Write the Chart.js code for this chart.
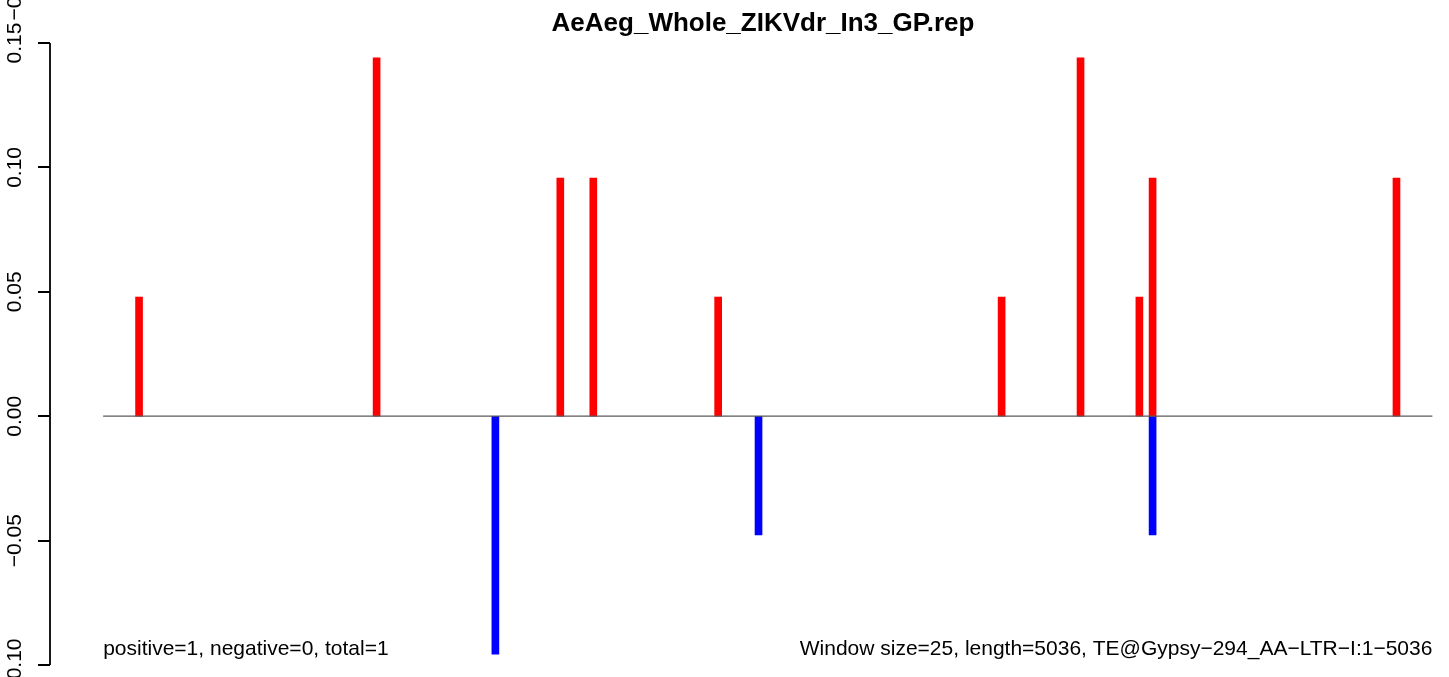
<!DOCTYPE html>
<html>
<head>
<meta charset="utf-8">
<script src="https://cdn.jsdelivr.net/npm/chart.js@4"></script>
<style>
  body { margin: 0; background: #fff; }
  canvas { display: block; }
</style>
</head>
<body>
<canvas id="myChart" width="1449" height="677"></canvas>
<script>
// window positions (bp) and scores
const posX = [136, 1036, 1732, 1857, 2330, 3404, 3703, 3926, 3976, 4900];
const posY = [0.0479, 0.1440, 0.0957, 0.0957, 0.0479, 0.0479, 0.1440, 0.0479, 0.0957, 0.0957];
const negX = [1486, 2483, 3976];
const negY = [-0.0956, -0.0477, -0.0477];

const seqLength = 5036;
const yTicks = [-0.10, -0.05, 0.00, 0.05, 0.10, 0.15];
const yTickLabels = ['\u22120.10', '\u22120.05', '0.00', '0.05', '0.10', '0.15'];

const title = 'AeAeg_Whole_ZIKVdr_In3_GP.rep';
const leftNote = 'positive=1, negative=0, total=1';
const rightNote = 'Window size=25, length=5036, TE@Gypsy\u2212294_AA\u2212LTR\u2212I:1\u22125036';

const font = '"Liberation Sans", Arial, Helvetica, sans-serif';

const rAxis = {
    id: 'rAxis',
    afterDraw(chart) {
        const ctx = chart.ctx;
        const x = chart.scales.x;
        const y = chart.scales.y;
        const axisX = chart.chartArea.left;

        ctx.save();
        ctx.strokeStyle = '#000';
        ctx.lineWidth = 1.8;
        ctx.beginPath();
        ctx.moveTo(axisX, Math.round(y.getPixelForValue(yTicks[yTicks.length - 1])));
        ctx.lineTo(axisX, Math.round(y.getPixelForValue(yTicks[0])));
        yTicks.forEach(function (v) {
            const py = Math.round(y.getPixelForValue(v));
            ctx.moveTo(axisX, py);
            ctx.lineTo(axisX - 12, py);
        });
        ctx.stroke();

        // rotated tick labels
        ctx.fillStyle = '#000';
        ctx.font = '21px ' + font;
        ctx.textAlign = 'center';
        ctx.textBaseline = 'alphabetic';
        const drawRot = function (txt, py) {
            ctx.save();
            ctx.translate(21, py);
            ctx.rotate(-Math.PI / 2);
            ctx.fillText(txt, 0, 0);
            ctx.restore();
        };
        yTicks.forEach(function (v, i) {
            drawRot(yTickLabels[i], y.getPixelForValue(v));
        });
        // leftover label of the panel above
        drawRot('\u22120.10', -6);

        // title
        ctx.font = 'bold 26px ' + font;
        ctx.fillText(title, 763, 31);

        // notes
        ctx.font = '21px ' + font;
        ctx.textBaseline = 'middle';
        const ny = y.getPixelForValue(-0.0952) - 4;
        ctx.textAlign = 'left';
        ctx.fillText(leftNote, x.getPixelForValue(0), ny);
        ctx.textAlign = 'right';
        ctx.fillText(rightNote, x.getPixelForValue(seqLength), ny);
        ctx.restore();
    }
};

const data = {
    datasets: [{
        type: 'line',
        data: [{x: 0, y: 0}, {x: seqLength, y: 0}],
        borderColor: '#5a5a5a',
        borderWidth: 1.3,
        pointRadius: 0,
        order: 0
    }, {
        type: 'bar',
        data: posX.map((v, i) => ({x: v, y: posY[i]})),
        backgroundColor: '#ff0000',
        barThickness: 7,
        grouped: false,
        order: 1
    }, {
        type: 'bar',
        data: negX.map((v, i) => ({x: v, y: negY[i]})),
        backgroundColor: '#0000ff',
        barThickness: 7,
        grouped: false,
        order: 1
    }]
};

const config = {
    type: 'bar',
    data: data,
    options: {
        responsive: false,
        animation: false,
        devicePixelRatio: 1,
        layout: { padding: { left: 50, top: 37, right: 0, bottom: 0 } },
        scales: {
            x: { type: 'linear', min: -201.4, max: 5099, offset: false, display: false },
            y: { min: -0.1048, max: 0.1524, display: false }
        },
        plugins: {
            legend: { display: false },
            tooltip: { enabled: false },
            title: { display: false }
        }
    },
    plugins: [rAxis]
};

var myChart = new Chart(document.getElementById('myChart'), config);
</script>
</body>
</html>
